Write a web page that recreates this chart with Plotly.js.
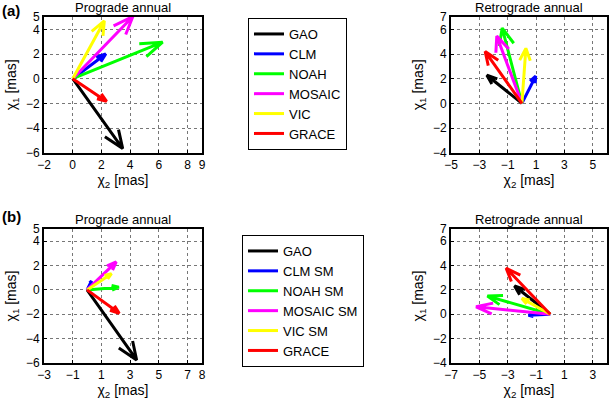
<!DOCTYPE html>
<html>
<head>
<meta charset="utf-8">
<script src="https://cdn.plot.ly/plotly-3.0.1.min.js"></script>
<style>html,body{margin:0;padding:0;background:#fff;}#chart{width:610px;height:405px;}</style>
</head>
<body>
<div id="chart"></div>
<script>
// ---- data ----
const namesA = ['GAO', 'CLM', 'NOAH', 'MOSAIC', 'VIC', 'GRACE'];
const namesB = ['GAO', 'CLM SM', 'NOAH SM', 'MOSAIC SM', 'VIC SM', 'GRACE'];
const colors = ['#000000', '#0000ff', '#00ff00', '#ff00ff', '#ffff00', '#ff0000'];

// chi2 (x) and chi1 (y) components, in mas
const progA_chi2 = [3.48, 2.30, 6.26, 4.19, 2.20, 2.36];
const progA_chi1 = [-5.67, 2.00, 2.96, 5.04, 4.68, -1.84];
const retroA_chi2 = [-2.47, 0.97, -1.39, -1.77, 0.28, -2.59];
const retroA_chi1 = [2.28, 2.20, 6.10, 5.45, 4.46, 4.20];
const progB_chi2 = [3.45, 0.30, 2.21, 2.03, 1.70, 2.24];
const progB_chi1 = [-5.75, 0.72, 0.22, 2.30, 1.33, -1.92];
const retroB_chi2 = [-2.52, -1.53, -4.43, -5.23, -2.00, -3.11];
const retroB_chi1 = [2.32, -0.08, 1.49, 0.61, 1.30, 3.78];

const ticksA1x = [-2, 0, 2, 4, 6, 8, 9], ticksA1y = [-6, -4, -2, 0, 2, 4, 5];
const ticksA2x = [-5, -3, -1, 1, 3, 5, 6], ticksA2y = [-4, -2, 0, 2, 4, 6, 7];
const ticksB1x = [-3, -1, 1, 3, 5, 7, 8], ticksB1y = [-6, -4, -2, 0, 2, 4, 5];
const ticksB2x = [-7, -5, -3, -1, 1, 3, 4], ticksB2y = [-4, -2, 0, 2, 4, 6, 7];

// ---- build quiver arrows (MATLAB-style heads) ----
const alpha = 0.22, beta = 0.38;
const traces = [];
function quiver(us, vs, xa, ya) {
  for (let i = 0; i < us.length; i++) {
    const u = us[i], v = vs[i];
    const h1x = u - alpha * (u + beta * v), h1y = v - alpha * (v - beta * u);
    const h2x = u - alpha * (u - beta * v), h2y = v - alpha * (v + beta * u);
    traces.push({
      type: 'scatter', mode: 'lines', xaxis: xa, yaxis: ya,
      x: [0, u, h1x, u, h2x], y: [0, v, h1y, v, h2y],
      line: {color: colors[i], width: 3}, showlegend: false, hoverinfo: 'skip'
    });
  }
}
quiver(progA_chi2, progA_chi1, 'x', 'y');
quiver(retroA_chi2, retroA_chi1, 'x2', 'y2');
quiver(progB_chi2, progB_chi1, 'x3', 'y3');
quiver(retroB_chi2, retroB_chi1, 'x4', 'y4');

namesA.forEach((n, i) => traces.push({type: 'scatter', mode: 'lines', x: [null], y: [null], name: n,
  line: {color: colors[i], width: 3}, legend: 'legend', showlegend: true}));
namesB.forEach((n, i) => traces.push({type: 'scatter', mode: 'lines', x: [null], y: [null], name: n,
  line: {color: colors[i], width: 3}, legend: 'legend2', showlegend: true}));

const FONT = 'Liberation Sans, Arial, sans-serif';
function xax(dom, rng, tv, anchor) {
  return {domain: dom, range: rng, tickvals: tv, anchor: anchor, showline: true, linecolor: '#000', linewidth: 2,
    mirror: true, ticks: 'inside', ticklen: 3, tickcolor: '#000', showgrid: true, gridcolor: '#777', griddash: 'dot',
    gridwidth: 1, zeroline: false, tickfont: {size: 12, color: '#000'},
    title: {text: 'χ<sub>2</sub> [mas]', font: {size: 14, color: '#000'}, standoff: 0}};
}
function yax(dom, rng, tv, anchor) {
  return {domain: dom, range: rng, tickvals: tv, anchor: anchor, showline: true, linecolor: '#000', linewidth: 2,
    mirror: true, ticks: 'inside', ticklen: 3, tickcolor: '#000', showgrid: true, gridcolor: '#777', griddash: 'dot',
    gridwidth: 1, zeroline: false, tickfont: {size: 12, color: '#000'},
    title: {text: 'χ<sub>1</sub> [mas]', font: {size: 14, color: '#000'}, standoff: 6}};
}
const dxL = [0.0721, 0.3311], dxR = [0.7393, 0.9951];
const dyT = [0.623, 0.958], dyB = [0.1037, 0.4346];

const legendStyle = {bgcolor: '#fff', bordercolor: '#000', borderwidth: 1, font: {size: 13, family: FONT, color: '#000'},
  xanchor: 'left', yanchor: 'top', itemwidth: 30, tracegroupgap: 0};

const layout = {
  width: 610, height: 405, margin: {l: 0, r: 0, t: 0, b: 0},
  paper_bgcolor: '#fff', plot_bgcolor: '#fff',
  font: {family: FONT, color: '#000'},
  xaxis: xax(dxL, [-2, 9], ticksA1x, 'y'), yaxis: yax(dyT, [-6, 5], ticksA1y, 'x'),
  xaxis2: xax(dxR, [-5, 6], ticksA2x, 'y2'), yaxis2: yax(dyT, [-4, 7], ticksA2y, 'x2'),
  xaxis3: xax(dxL, [-3, 8], ticksB1x, 'y3'), yaxis3: yax(dyB, [-6, 5], ticksB1y, 'x3'),
  xaxis4: xax(dxR, [-7, 4], ticksB2x, 'y4'), yaxis4: yax(dyB, [-4, 7], ticksB2y, 'x4'),
  legend: Object.assign({}, legendStyle, {x: 248 / 610, y: 1 - 18 / 405}),
  legend2: Object.assign({}, legendStyle, {x: 242 / 610, y: 1 - 235 / 405}),
  annotations: [
    {text: 'Prograde annual', xref: 'x domain', yref: 'y domain', x: 0.5, y: 1, yanchor: 'bottom', showarrow: false, font: {size: 13}},
    {text: 'Retrograde annual', xref: 'x2 domain', yref: 'y2 domain', x: 0.5, y: 1, yanchor: 'bottom', showarrow: false, font: {size: 13}},
    {text: 'Prograde annual', xref: 'x3 domain', yref: 'y3 domain', x: 0.5, y: 1, yanchor: 'bottom', showarrow: false, font: {size: 13}},
    {text: 'Retrograde annual', xref: 'x4 domain', yref: 'y4 domain', x: 0.5, y: 1, yanchor: 'bottom', showarrow: false, font: {size: 13}},
    {text: '<b>(a)</b>', xref: 'paper', yref: 'paper', x: 0, y: 1, xanchor: 'left', yanchor: 'top', showarrow: false, font: {size: 15}},
    {text: '<b>(b)</b>', xref: 'paper', yref: 'paper', x: 0, y: 1 - 206 / 405, xanchor: 'left', yanchor: 'top', showarrow: false, font: {size: 15}}
  ]
};

Plotly.newPlot('chart', traces, layout, {staticPlot: true, displayModeBar: false});
</script>
</body>
</html>
